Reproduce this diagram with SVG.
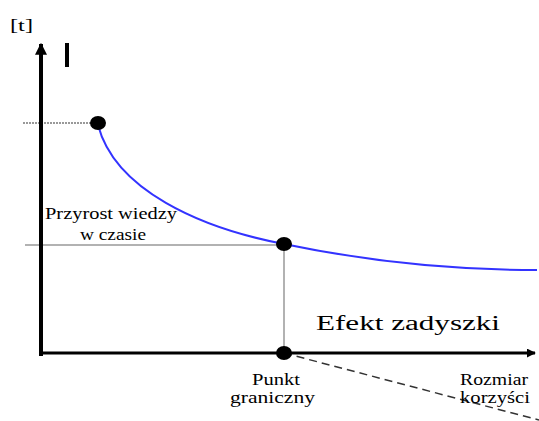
<svg xmlns="http://www.w3.org/2000/svg" width="539" height="421" viewBox="0 0 539 421">
<style>
text{font-family:"Liberation Serif","Times New Roman",serif;fill:#000}
.lbl{font-size:16px}
.gray{stroke:#999;stroke-width:1.5;fill:none}
.dot{fill:#000}
</style>
<defs>
<marker id="ah" viewBox="0 0 10 10" refX="9" refY="5" markerWidth="3" markerHeight="3" orient="auto" markerUnits="strokeWidth"><path d="M0,0 L10,5 L0,10 z" fill="#000"/></marker>
</defs>
<rect width="539" height="421" fill="#fff"/>
<g id="connectors">
<line x1="23" y1="123" x2="97" y2="123" stroke="#999" stroke-width="2" stroke-dasharray="2,1"/>
<line x1="25" y1="245" x2="284" y2="245" class="gray"/>
<line x1="284" y1="245" x2="284" y2="353" class="gray"/>
<path d="M98,125 C 115,190 200,228 284,244 C 370,262 450,270 537,270" fill="none" stroke="#3333ff" stroke-width="2"/>
<line x1="284" y1="353" x2="539" y2="420" stroke="#333" stroke-width="1.5" stroke-dasharray="8,5"/>
</g>
<g id="axes">
<line x1="41" y1="356" x2="41" y2="44" stroke="#000" stroke-width="4" marker-end="url(#ah)"/>
<line x1="39" y1="353" x2="535" y2="353" stroke="#000" stroke-width="3" marker-end="url(#ah)"/>
<text x="10" y="31" class="lbl" textLength="23" lengthAdjust="spacingAndGlyphs">[t]</text>
<rect x="65" y="43" width="4" height="24" fill="#000"/>
</g>
<g id="point-top"><ellipse cx="98" cy="123" rx="8" ry="7" class="dot"/></g>
<g id="point-mid"><ellipse cx="284" cy="244" rx="8" ry="7" class="dot"/></g>
<g id="point-bottom"><ellipse cx="284" cy="353" rx="8" ry="7" class="dot"/></g>
<g id="label-przyrost">
<text x="45" y="219" class="lbl" textLength="132" lengthAdjust="spacingAndGlyphs">Przyrost wiedzy</text>
<text x="80" y="240" class="lbl" textLength="66" lengthAdjust="spacingAndGlyphs">w czasie</text>
</g>
<g id="label-efekt">
<text x="316" y="330" font-size="20" textLength="184" lengthAdjust="spacingAndGlyphs">Efekt zadyszki</text>
</g>
<g id="label-punkt">
<text x="252" y="385" class="lbl" textLength="48" lengthAdjust="spacingAndGlyphs">Punkt</text>
<text x="230" y="403" class="lbl" textLength="85" lengthAdjust="spacingAndGlyphs">graniczny</text>
</g>
<g id="label-rozmiar">
<text x="460" y="385" class="lbl" textLength="68" lengthAdjust="spacingAndGlyphs">Rozmiar</text>
<text x="460" y="403" class="lbl" textLength="70" lengthAdjust="spacingAndGlyphs">korzyści</text>
</g>
</svg>
